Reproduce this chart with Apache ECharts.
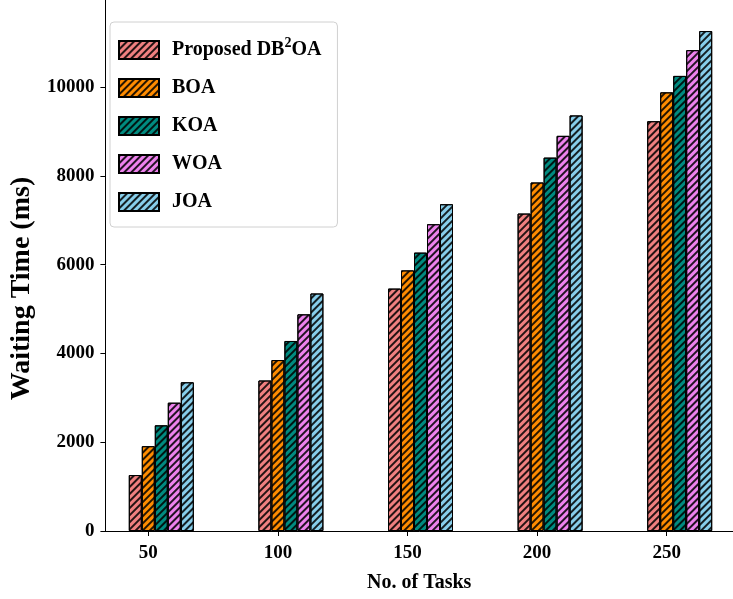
<!DOCTYPE html>
<html>
<head>
<meta charset="utf-8">
<script src="https://cdn.jsdelivr.net/npm/echarts@6/dist/echarts.min.js"></script>
<style>
  html, body { margin: 0; padding: 0; background: #fff; }
  #main { width: 733px; height: 599px; }
</style>
</head>
<body>
<div id="main"></div>
<script>
var tasks = ['50', '100', '150', '200', '250'];
var proposed = [1260, 3390, 5460, 7150, 9230];
var boa = [1910, 3850, 5870, 7850, 9880];
var koa = [2380, 4280, 6270, 8410, 10250];
var woa = [2890, 4880, 6910, 8900, 10830];
var joa = [3350, 5350, 7360, 9360, 11260];

var names = ['Proposed DB2OA', 'BOA', 'KOA', 'WOA', 'JOA'];
var colors = ['#f08080', '#ff8c00', '#008b80', '#ee82ee', '#87ceeb'];
var seriesData = [proposed, boa, koa, woa, joa];

var font = 'Liberation Serif';

// diagonal "////" hatch
var hatch = {
    symbol: 'rect',
    symbolSize: 1,
    color: 'rgba(0,0,0,0.85)',
    dashArrayX: [1, 0],
    dashArrayY: [1.5, 2.2],
    rotation: -Math.PI / 4
};

// two empty slots first so the tick sits under the 2nd bar, as in the original
var series = [
    { name: '_pad1', type: 'bar', barWidth: 13, barGap: '0%', data: [] },
    { name: '_pad2', type: 'bar', barWidth: 13, barGap: '0%', data: [] }
];
names.forEach(function (n, i) {
    series.push({
        name: n,
        type: 'bar',
        xAxisIndex: 0,
        yAxisIndex: 0,
        barWidth: 13,
        barGap: '0%',
        itemStyle: {
            color: colors[i],
            borderColor: '#000',
            borderWidth: 1,
            decal: hatch
        },
        data: seriesData[i]
    });
});

var myChart = echarts.init(document.getElementById('main'));
var option = {
    animation: false,
    legend: {
        orient: 'vertical',
        left: 110,
        top: 22,
        padding: [14, 16, 15, 8],
        icon: 'rect',
        itemWidth: 40,
        itemHeight: 18,
        itemGap: 18,
        backgroundColor: '#fff',
        borderColor: '#d0d0d0',
        borderWidth: 1,
        borderRadius: 4,
        formatter: function (name) {
            if (name === 'Proposed DB2OA') return '{b|Proposed DB}{s|2}{b|OA}';
            return '{b|' + name + '}';
        },
        textStyle: {
            fontFamily: font,
            fontWeight: 'bold',
            fontSize: 20,
            color: '#000',
            padding: [0, 0, 0, 8],
            rich: {
                b: { fontFamily: font, fontWeight: 'bold', fontSize: 20, color: '#000' },
                s: { fontFamily: font, fontSize: 14, color: '#000', verticalAlign: 'bottom', padding: [0, 0, 14, 0] }
            }
        },
        data: names
    },
    grid: [
        { left: 83.5, top: 0, width: 648, bottom: 68 },
        { left: 99.5, top: 0, right: 0, bottom: 68 }
    ],
    xAxis: [{
        type: 'category',
        gridIndex: 0,
        data: tasks,
        axisLine: { show: false },
        axisTick: { show: true, alignWithLabel: true, length: 5, lineStyle: { color: '#000' } },
        axisLabel: { fontFamily: font, fontWeight: 'bold', fontSize: 19, color: '#000', margin: 13 }
    }, {
        type: 'value',
        gridIndex: 1,
        min: 0,
        max: 1,
        axisLine: { show: true, onZero: false, lineStyle: { color: '#000', width: 1 } },
        axisTick: { show: false },
        axisLabel: { show: false },
        splitLine: { show: false },
        name: 'No. of Tasks',
        nameLocation: 'middle',
        nameGap: 42,
        nameTextStyle: { fontFamily: font, fontWeight: 'bold', fontSize: 20, color: '#000' }
    }],
    yAxis: [{
        type: 'value',
        gridIndex: 0,
        min: 0,
        max: 11960,
        show: false
    }, {
        type: 'value',
        gridIndex: 1,
        min: 0,
        max: 11960,
        interval: 2000,
        axisLine: { show: true, lineStyle: { color: '#000', width: 1 } },
        axisTick: { show: true, length: 5, lineStyle: { color: '#000' } },
        splitLine: { show: false },
        axisLabel: {
            fontFamily: font, fontWeight: 'bold', fontSize: 19, color: '#000', margin: 11,
            showMaxLabel: false,
            formatter: function (v) { return String(v); }
        },
        name: 'Waiting Time (ms)',
        nameLocation: 'middle',
        nameGap: 65,
        nameTextStyle: { fontFamily: font, fontWeight: 'bold', fontSize: 28, color: '#000', padding: [0, 46, 0, 0] }
    }],
    series: series
};
myChart.setOption(option);
</script>
</body>
</html>
